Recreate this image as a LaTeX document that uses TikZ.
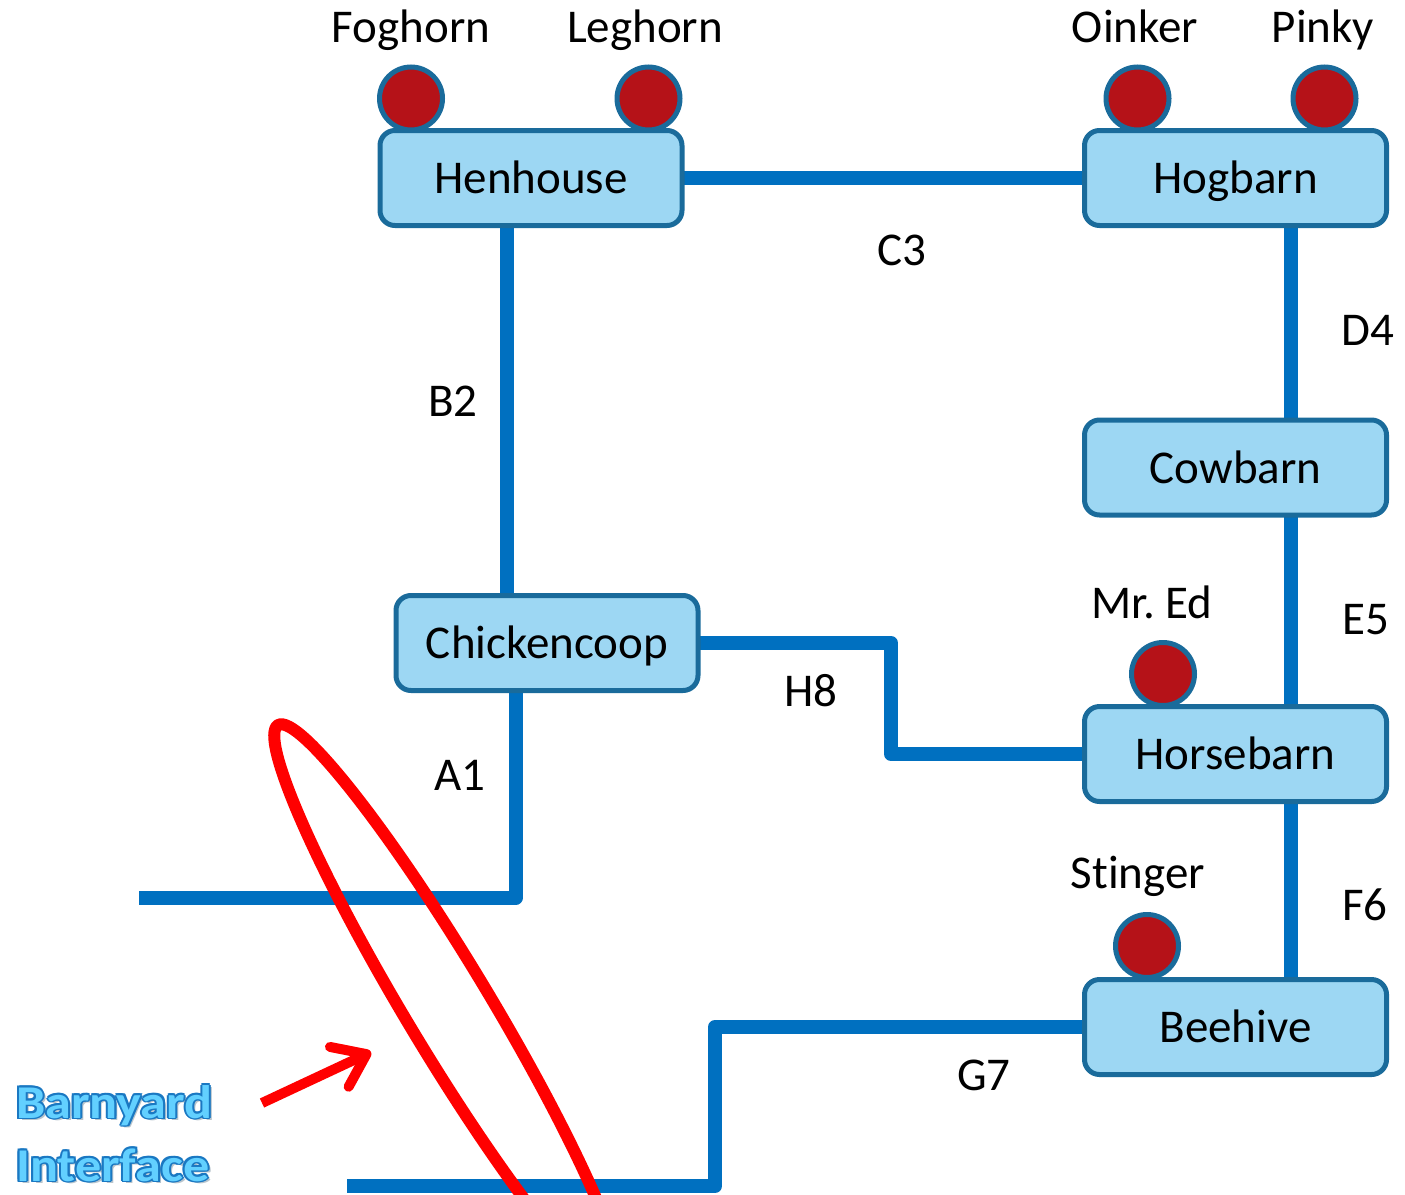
\documentclass[tikz,border=0pt]{standalone}
\usepackage{fontspec}
\setmainfont{Carlito}[Ligatures=NoCommon]
\usetikzlibrary{arrows.meta,backgrounds}
\definecolor{wireblue}{HTML}{0070C0}
\definecolor{boxfill}{HTML}{9DD7F3}
\definecolor{boxborder}{HTML}{1A6B9B}
\definecolor{dotred}{HTML}{B51218}
\definecolor{ellred}{HTML}{FF0000}
\definecolor{fillcyan}{HTML}{62D0FF}
\definecolor{outblue}{HTML}{1A78C2}
\definecolor{shadowgray}{HTML}{B8C4CC}
\frenchspacing
\newcommand\bigfont{\fontsize{47}{56}\selectfont}
\newcommand\olcopy[3]{\rlap{\kern#1\raisebox{#2}{#3}}}
\newcommand\glowtext[1]{\scalebox{1.11}[1]{%
  \olcopy{2.6pt}{-2.6pt}{\textcolor{shadowgray}{#1}}%
  \olcopy{1.8pt}{0pt}{\textcolor{outblue}{#1}}%
  \olcopy{-1.8pt}{0pt}{\textcolor{outblue}{#1}}%
  \olcopy{0pt}{1.8pt}{\textcolor{outblue}{#1}}%
  \olcopy{0pt}{-1.8pt}{\textcolor{outblue}{#1}}%
  \olcopy{1.3pt}{1.3pt}{\textcolor{outblue}{#1}}%
  \olcopy{-1.3pt}{1.3pt}{\textcolor{outblue}{#1}}%
  \olcopy{1.3pt}{-1.3pt}{\textcolor{outblue}{#1}}%
  \olcopy{-1.3pt}{-1.3pt}{\textcolor{outblue}{#1}}%
  \textcolor{fillcyan}{#1}}}
\begin{document}
\begin{tikzpicture}[x=1pt,y=-1pt,
  box/.style={draw=boxborder, line width=5pt, fill=boxfill, rounded corners=15pt,
    minimum width=302pt, minimum height=95pt, inner sep=0pt,
    text height=31pt, text depth=0pt, font=\bigfont},
  dot/.style={circle, draw=boxborder, line width=5pt, fill=dotred,
    minimum size=63pt, inner sep=0pt},
  lbl/.style={anchor=base, inner sep=0pt, font=\bigfont},
  wire/.style={draw=wireblue, line width=14pt, line join=round},
  redline/.style={draw=ellred, line width=12pt},
  redarrow/.style={draw=ellred, line width=10pt,
    -{Straight Barb[length=30pt, width=44pt, round]}},
  glow/.style={anchor=base west, inner sep=0pt, font=\bigfont\bfseries}
]
\useasboundingbox (0,0) rectangle (1405,1194);
\clip (0,0) rectangle (1405,1194);

% dots (behind boxes)
\node[dot] (dfog) at (411,98.5) {};
\node[dot] (dleg) at (648.5,98.5) {};
\node[dot] (doink) at (1137.5,98.5) {};
\node[dot] (dpink) at (1324.5,98.5) {};
\node[dot] (ded) at (1163,674) {};
\node[dot] (dsting) at (1147,946) {};

% boxes
\node[box] (hen) at (531,178) {Henhouse};
\node[box] (hog) at (1235.5,178) {Hogbarn};
\node[box] (cow) at (1235.5,467.5) {Cowbarn};
\node[box] (coop) at (547,643) {Chickencoop};
\node[box] (horse) at (1235.5,754) {Horsebarn};
\node[box] (bee) at (1235.5,1027) {Beehive};

% labels
\node[lbl] (lfog) at (411,42) {Foghorn};
\node[lbl] (lleg) at (645,42) {Leghorn};
\node[lbl] (loink) at (1135,42) {Oinker};
\node[lbl] (lpink) at (1323,42) {Pinky};
\node[lbl] (led) at (1152,618) {Mr. Ed};
\node[lbl] (lsting) at (1138,888) {Stinger};

\node[lbl] (lc3) at (902,265) {C3};
\node[lbl] (lb2) at (453,416) {B2};
\node[lbl] (ld4) at (1368,345) {D4};
\node[lbl] (le5) at (1366,634) {E5};
\node[lbl] (lh8) at (811,706) {H8};
\node[lbl] (la1) at (460,790) {A1};
\node[lbl] (lf6) at (1365,920) {F6};
\node[lbl] (lg7) at (984,1090) {G7};

\coordinate (aend) at (139,898);
\coordinate (gend) at (347,1186);

% wires
\begin{scope}[on background layer]
\draw[wire] (hen.center) -- (hog.center);
\draw[wire] ([xshift=-24pt]hen.center) -- ([xshift=-40pt]coop.center);
\draw[wire] ([xshift=55.5pt]hog.center) -- ([xshift=55.5pt]cow.center);
\draw[wire] ([xshift=55.5pt]cow.center) -- ([xshift=55.5pt]horse.center);
\draw[wire] ([xshift=55.5pt]horse.center) -- ([xshift=55.5pt]bee.center);
\draw[wire] (coop.center) -- (891,643) |- (horse.center);
\draw[wire] ([xshift=-31.5pt]coop.center) |- (aend);
\draw[wire] (bee.center) -| (715,1186) -- (gend);
\end{scope}

% red ellipse and arrow
\draw[redline, rotate around={-59:(448,1008)}] (448,1008) ellipse [x radius=330pt, y radius=42pt];
\coordinate (atail) at (262,1103);
\coordinate (ahead) at (371,1052);
\draw[redarrow] (atail) -- (ahead);

% Barnyard Interface
\node[glow] (bi1) at (16,1118) {\glowtext{Barnyard}};
\node[glow] (bi2) at (16,1181) {\glowtext{Interface}};
\end{tikzpicture}
\end{document}
